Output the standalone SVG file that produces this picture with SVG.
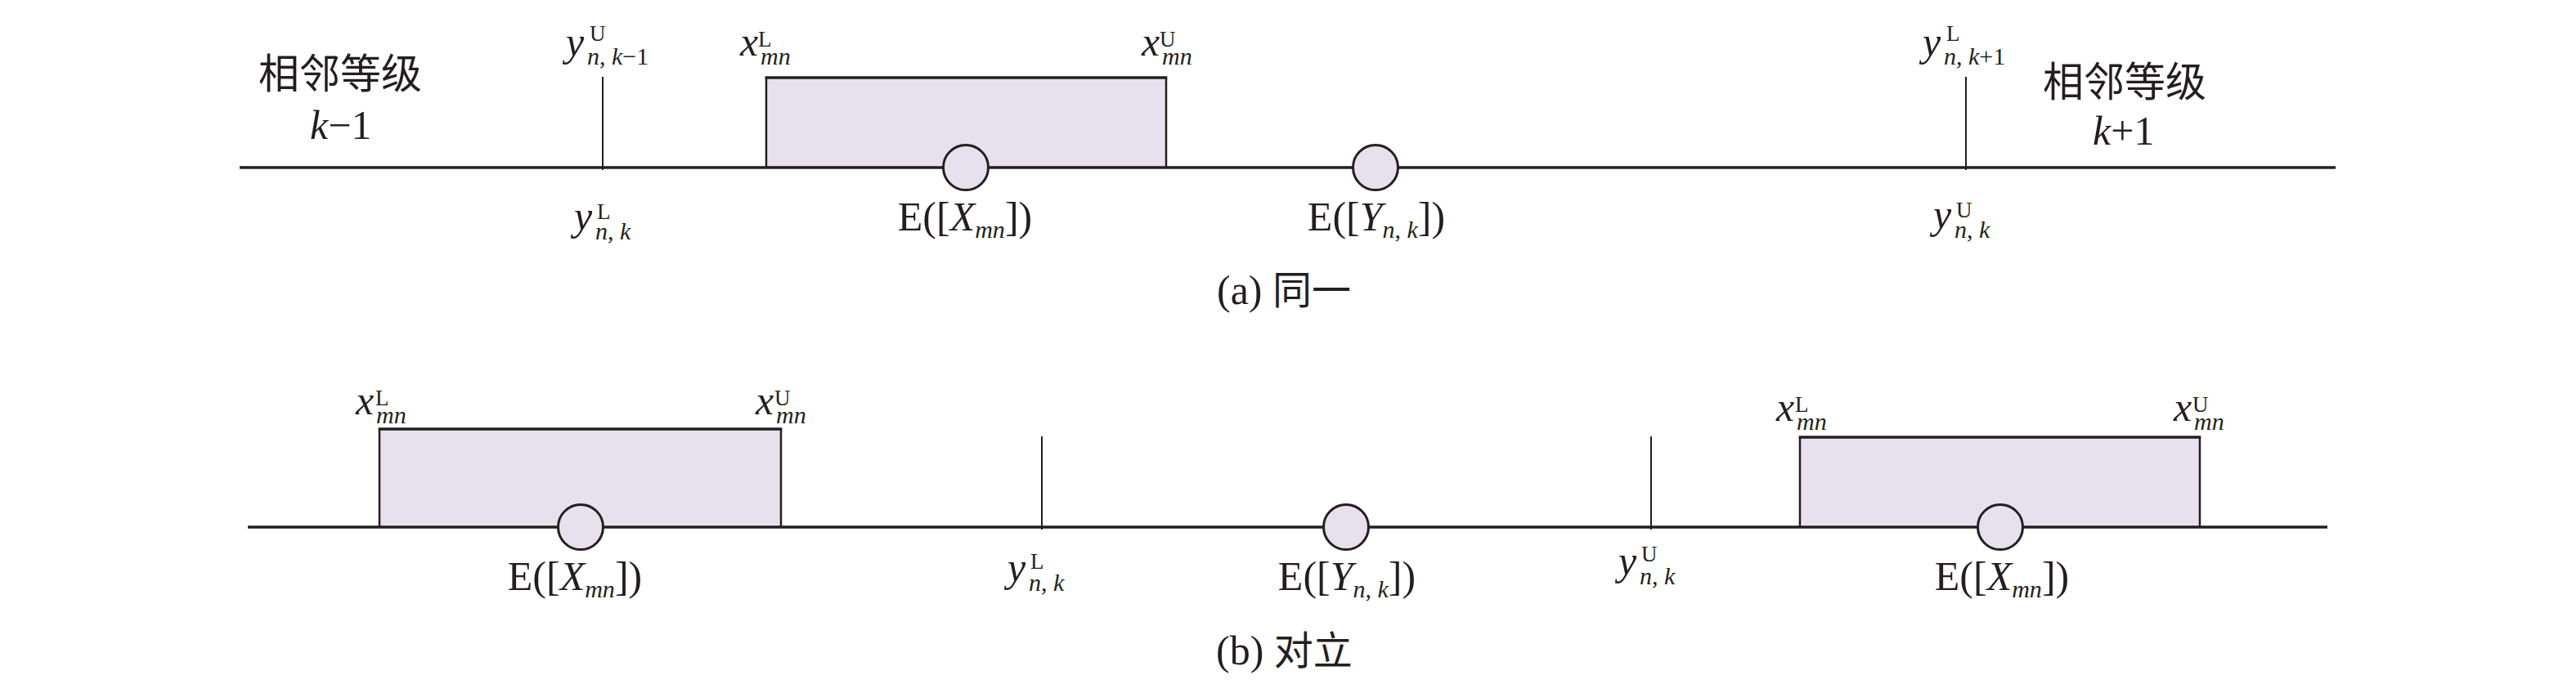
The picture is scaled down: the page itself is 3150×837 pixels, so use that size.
<svg xmlns="http://www.w3.org/2000/svg" width="3150" height="837" viewBox="0 0 3150 837">
<style>
.bg{fill:#ffffff}
.axis{stroke:#231f20;stroke-width:3.5;fill:none}
.tick{stroke:#231f20;stroke-width:2;fill:none}
.edge{stroke:#231f20;stroke-width:2.5;fill:none}
.top{stroke:#231f20;stroke-width:3.5;fill:none}
.box{fill:#e7e1ee;stroke:none}
.pt{fill:#e7e1ee;stroke:#231f20;stroke-width:3}
.m{font-family:"Liberation Serif","Noto Sans CJK SC",serif;font-size:50px;fill:#231f20}
.i{font-style:italic}
.sup{font-size:27px;font-style:normal}
.sub{font-size:30px}
.cjk{font-family:"Noto Sans CJK SC","Liberation Serif",sans-serif;font-size:50px;fill:#231f20}
.cap{font-family:"Liberation Serif","Noto Sans CJK SC",serif;font-size:50px;fill:#231f20}
</style>
<rect class="bg" x="0" y="0" width="3150" height="837"/>

<!-- Panel (a) -->
<g id="panel-a">
  <g id="a-interval-x">
    <rect class="box" x="937" y="95" width="489" height="110"/>
    <line class="top" x1="935.5" y1="95" x2="1427.3" y2="95"/>
    <line class="edge" x1="937" y1="95" x2="937" y2="205"/>
    <line class="edge" x1="1426" y1="95" x2="1426" y2="205"/>
  </g>
  <g id="a-connectors">
    <line class="axis" x1="293" y1="205" x2="2856" y2="205"/>
    <line class="tick" x1="737" y1="94" x2="737" y2="208"/>
    <line class="tick" x1="2404" y1="94" x2="2404" y2="208"/>
  </g>
  <g id="a-EX">
    <circle class="pt" cx="1181" cy="205" r="27.5"/>
    <text class="m" x="1180" y="282" text-anchor="middle">E([<tspan class="i">X</tspan><tspan class="sub i" dy="9">mn</tspan><tspan dy="-9">])</tspan></text>
  </g>
  <g id="a-EY">
    <circle class="pt" cx="1682" cy="205" r="27.5"/>
    <text class="m" x="1683" y="282" text-anchor="middle">E([<tspan class="i">Y</tspan><tspan class="sub" dy="9"><tspan class="i">n</tspan>, <tspan class="i">k</tspan></tspan><tspan dy="-9">])</tspan></text>
  </g>
  <g id="a-left-label">
    <text class="cjk" x="316" y="108">相邻等级</text>
    <text class="m" x="379" y="170"><tspan class="i">k</tspan>−1</text>
  </g>
  <g id="a-right-label">
    <text class="cjk" x="2498" y="118">相邻等级</text>
    <text class="m" x="2559" y="177"><tspan class="i">k</tspan>+1</text>
  </g>
  <g id="a-yU-k-1">
    <text class="m" x="692" y="68"><tspan class="i">y</tspan><tspan class="sup" x="721" y="50">U</tspan><tspan class="sub" x="718" y="79"><tspan class="i">n</tspan>, <tspan class="i">k</tspan>−1</tspan></text>
  </g>
  <g id="a-xL">
    <text class="m" x="905" y="68"><tspan class="i">x</tspan><tspan class="sup" x="927" y="57">L</tspan><tspan class="sub i" x="930" y="79">mn</tspan></text>
  </g>
  <g id="a-xU">
    <text class="m" x="1396" y="68"><tspan class="i">x</tspan><tspan class="sup" x="1418" y="57">U</tspan><tspan class="sub i" x="1421" y="79">mn</tspan></text>
  </g>
  <g id="a-yL-k+1">
    <text class="m" x="2351" y="68"><tspan class="i">y</tspan><tspan class="sup" x="2380" y="50">L</tspan><tspan class="sub" x="2377" y="79"><tspan class="i">n</tspan>, <tspan class="i">k</tspan>+1</tspan></text>
  </g>
  <g id="a-yL-k">
    <text class="m" x="702" y="281"><tspan class="i">y</tspan><tspan class="sup" x="730" y="268">L</tspan><tspan class="sub" x="728" y="293"><tspan class="i">n</tspan>, <tspan class="i">k</tspan></tspan></text>
  </g>
  <g id="a-yU-k">
    <text class="m" x="2364" y="279"><tspan class="i">y</tspan><tspan class="sup" x="2392" y="266">U</tspan><tspan class="sub" x="2390" y="291"><tspan class="i">n</tspan>, <tspan class="i">k</tspan></tspan></text>
  </g>
  <g id="a-caption">
    <text class="cap" x="1488" y="372">(a) <tspan class="cjk" style="font-size:48px">同一</tspan></text>
  </g>
</g>

<!-- Panel (b) -->
<g id="panel-b">
  <g id="b-interval-x1">
    <rect class="box" x="464" y="525" width="491" height="120"/>
    <line class="top" x1="462.7" y1="525" x2="956.3" y2="525"/>
    <line class="edge" x1="464" y1="525" x2="464" y2="645"/>
    <line class="edge" x1="955" y1="525" x2="955" y2="645"/>
  </g>
  <g id="b-interval-x2">
    <rect class="box" x="2201" y="535" width="489" height="110"/>
    <line class="top" x1="2199.7" y1="535" x2="2691.3" y2="535"/>
    <line class="edge" x1="2201" y1="535" x2="2201" y2="645"/>
    <line class="edge" x1="2690" y1="535" x2="2690" y2="645"/>
  </g>
  <g id="b-connectors">
    <line class="axis" x1="303" y1="645" x2="2846" y2="645"/>
    <line class="tick" x1="1274" y1="534" x2="1274" y2="648"/>
    <line class="tick" x1="2019" y1="534" x2="2019" y2="648"/>
  </g>
  <g id="b-EX1">
    <circle class="pt" cx="710" cy="645" r="27.5"/>
    <text class="m" x="703" y="722" text-anchor="middle">E([<tspan class="i">X</tspan><tspan class="sub i" dy="9">mn</tspan><tspan dy="-9">])</tspan></text>
  </g>
  <g id="b-EY">
    <circle class="pt" cx="1646" cy="645" r="27.5"/>
    <text class="m" x="1647" y="722" text-anchor="middle">E([<tspan class="i">Y</tspan><tspan class="sub" dy="9"><tspan class="i">n</tspan>, <tspan class="i">k</tspan></tspan><tspan dy="-9">])</tspan></text>
  </g>
  <g id="b-EX2">
    <circle class="pt" cx="2446" cy="645" r="27.5"/>
    <text class="m" x="2448" y="722" text-anchor="middle">E([<tspan class="i">X</tspan><tspan class="sub i" dy="9">mn</tspan><tspan dy="-9">])</tspan></text>
  </g>
  <g id="b-xL1">
    <text class="m" x="435" y="507"><tspan class="i">x</tspan><tspan class="sup" x="459" y="496">L</tspan><tspan class="sub i" x="460" y="518">mn</tspan></text>
  </g>
  <g id="b-xU1">
    <text class="m" x="924" y="507"><tspan class="i">x</tspan><tspan class="sup" x="947" y="496">U</tspan><tspan class="sub i" x="949" y="518">mn</tspan></text>
  </g>
  <g id="b-xL2">
    <text class="m" x="2172" y="515"><tspan class="i">x</tspan><tspan class="sup" x="2195" y="504">L</tspan><tspan class="sub i" x="2197" y="526">mn</tspan></text>
  </g>
  <g id="b-xU2">
    <text class="m" x="2658" y="515"><tspan class="i">x</tspan><tspan class="sup" x="2681" y="504">U</tspan><tspan class="sub i" x="2683" y="526">mn</tspan></text>
  </g>
  <g id="b-yL">
    <text class="m" x="1232" y="711"><tspan class="i">y</tspan><tspan class="sup" x="1260" y="696">L</tspan><tspan class="sub" x="1258" y="723"><tspan class="i">n</tspan>, <tspan class="i">k</tspan></tspan></text>
  </g>
  <g id="b-yU">
    <text class="m" x="1979" y="703"><tspan class="i">y</tspan><tspan class="sup" x="2007" y="687">U</tspan><tspan class="sub" x="2005" y="715"><tspan class="i">n</tspan>, <tspan class="i">k</tspan></tspan></text>
  </g>
  <g id="b-caption">
    <text class="cap" x="1487" y="813">(b) <tspan class="cjk" style="font-size:48px">对立</tspan></text>
  </g>
</g>
</svg>
